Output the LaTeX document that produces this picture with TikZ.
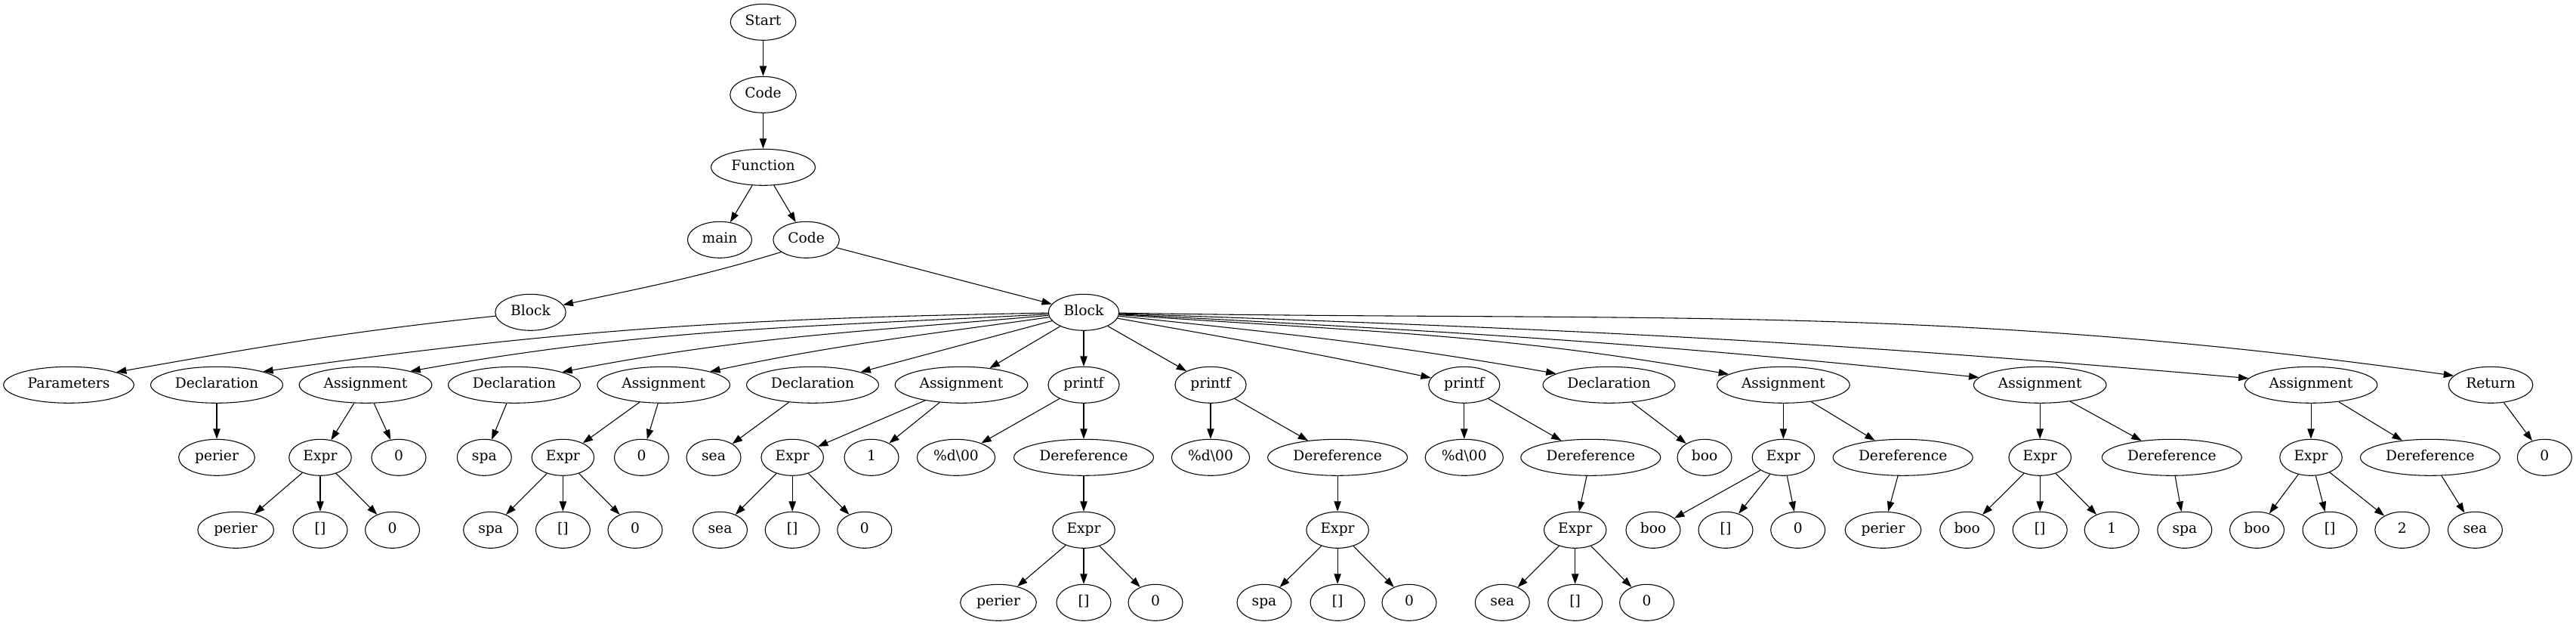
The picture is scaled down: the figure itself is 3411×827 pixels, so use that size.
\documentclass[tikz,border=0pt]{standalone}
\usepackage{fontspec}
\setmainfont{DejaVu Serif}
\usetikzlibrary{arrows.meta,shapes.geometric}

\begin{document}
\begin{tikzpicture}[x=0.75pt, y=-0.75pt, >={Triangle[length=10pt,width=7pt]},
  tnode/.style={draw, ellipse, thick, minimum width=54pt, minimum height=36pt,
    inner xsep=5pt, inner ysep=2pt, text height=10pt, text depth=3pt,
    font=\fontsize{14}{17}\selectfont}]
\useasboundingbox (0,0) rectangle (3411,827);
\node[tnode] (1) at (1010.5,29.3) {Start};
\node[tnode] (2) at (1010.5,125.3) {Code};
\node[tnode] (3) at (1010.5,221.3) {Function};
\node[tnode] (4) at (953,317.3) {main};
\node[tnode] (5) at (1067.6,317.3) {Code};
\node[tnode] (6) at (702.5,413.3) {Block};
\node[tnode] (7) at (1435,413.3) {Block};
\node[tnode] (8) at (91,509.3) {Parameters};
\node[tnode] (9) at (287,509.3) {Declaration};
\node[tnode] (10) at (484,509.3) {Assignment};
\node[tnode] (11) at (681,509.3) {Declaration};
\node[tnode] (12) at (878.7,509.3) {Assignment};
\node[tnode] (13) at (1076,509.3) {Declaration};
\node[tnode] (14) at (1273,509.3) {Assignment};
\node[tnode] (15) at (1435,509.3) {printf};
\node[tnode] (16) at (1603,509.3) {printf};
\node[tnode] (17) at (1938.8,509.3) {printf};
\node[tnode] (18) at (2130.5,509.3) {Declaration};
\node[tnode] (19) at (2361.4,509.3) {Assignment};
\node[tnode] (20) at (2701.2,509.3) {Assignment};
\node[tnode] (21) at (3060,509.3) {Assignment};
\node[tnode] (22) at (3298,509.3) {Return};
\node[tnode] (23) at (287,605.3) {perier};
\node[tnode] (24) at (424,605.3) {Expr};
\node[tnode] (25) at (528,605.3) {0};
\node[tnode] (26) at (641.3,605.3) {spa};
\node[tnode] (27) at (745.4,605.3) {Expr};
\node[tnode] (28) at (849.5,605.3) {0};
\node[tnode] (29) at (945,605.3) {sea};
\node[tnode] (30) at (1049.2,605.3) {Expr};
\node[tnode] (31) at (1154,605.3) {1};
\node[tnode] (32) at (1266,605.3) {\%d\textbackslash 00};
\node[tnode] (33) at (1435,605.3) {Dereference};
\node[tnode] (34) at (1603,605.3) {\%d\textbackslash 00};
\node[tnode] (35) at (1771.1,605.3) {Dereference};
\node[tnode] (36) at (1938.8,605.3) {\%d\textbackslash 00};
\node[tnode] (37) at (2106.3,605.3) {Dereference};
\node[tnode] (38) at (2257,605.3) {boo};
\node[tnode] (39) at (2361.4,605.3) {Expr};
\node[tnode] (40) at (2519.7,605.3) {Dereference};
\node[tnode] (41) at (2701.2,605.3) {Expr};
\node[tnode] (42) at (2875.8,605.3) {Dereference};
\node[tnode] (43) at (3060,605.3) {Expr};
\node[tnode] (44) at (3217.9,605.3) {Dereference};
\node[tnode] (45) at (3369.3,605.3) {0};
\node[tnode] (46) at (312.2,701.3) {perier};
\node[tnode] (47) at (424,701.3) {[]};
\node[tnode] (48) at (519.6,701.3) {0};
\node[tnode] (49) at (649.7,701.3) {spa};
\node[tnode] (50) at (745.4,701.3) {[]};
\node[tnode] (51) at (841,701.3) {0};
\node[tnode] (52) at (953.5,701.3) {sea};
\node[tnode] (53) at (1049.2,701.3) {[]};
\node[tnode] (54) at (1144.8,701.3) {0};
\node[tnode] (55) at (1435,701.3) {Expr};
\node[tnode] (56) at (1771.1,701.3) {Expr};
\node[tnode] (57) at (2085.7,701.3) {Expr};
\node[tnode] (58) at (2189,701.3) {boo};
\node[tnode] (59) at (2285,701.3) {[]};
\node[tnode] (60) at (2380.7,701.3) {0};
\node[tnode] (61) at (2493.5,701.3) {perier};
\node[tnode] (62) at (2604.7,701.3) {boo};
\node[tnode] (63) at (2701.2,701.3) {[]};
\node[tnode] (64) at (2796.2,701.3) {1};
\node[tnode] (65) at (2892.8,701.3) {spa};
\node[tnode] (66) at (2988.5,701.3) {boo};
\node[tnode] (67) at (3085,701.3) {[]};
\node[tnode] (68) at (3180.8,701.3) {2};
\node[tnode] (69) at (3277.4,701.3) {sea};
\node[tnode] (70) at (1322,797.3) {perier};
\node[tnode] (71) at (1435,797.3) {[]};
\node[tnode] (72) at (1530,797.3) {0};
\node[tnode] (73) at (1674,797.3) {spa};
\node[tnode] (74) at (1771.1,797.3) {[]};
\node[tnode] (75) at (1866,797.3) {0};
\node[tnode] (76) at (1989.3,797.3) {sea};
\node[tnode] (77) at (2085.7,797.3) {[]};
\node[tnode] (78) at (2180.6,797.3) {0};
\path[draw,thick,->] (1) -- (2);
\path[draw,thick,->] (2) -- (3);
\path[draw,thick,->] (3) -- (4);
\path[draw,thick,->] (3) -- (5);
\path[draw,thick,->] (5.206) .. controls +(197:84pt) and +(12:84pt) .. (6.13);
\path[draw,thick,->] (5) -- (7);
\path[draw,thick,->] (6.186) .. controls +(186:146pt) and +(10:146pt) .. (8.15);
\path[draw,thick,->] (7.181) .. controls +(181:304pt) and +(8:304pt) .. (9.16);
\path[draw,thick,->] (7.183) .. controls +(183:246pt) and +(10:246pt) .. (10.17);
\path[draw,thick,->] (7.185) .. controls +(185:186pt) and +(11:186pt) .. (11.15);
\path[draw,thick,->] (7.188) .. controls +(188:129pt) and +(12:129pt) .. (12.16);
\path[draw,thick,->] (7) -- (13);
\path[draw,thick,->] (7) -- (14);
\path[draw,thick,->] (7) -- (15);
\path[draw,thick,->] (7) -- (16);
\path[draw,thick,->] (7.-10) .. controls +(-10:120pt) and +(168:120pt) .. (17.168);
\path[draw,thick,->] (7.-6) .. controls +(-6:167pt) and +(170:167pt) .. (18.168);
\path[draw,thick,->] (7.-4) .. controls +(-4:238pt) and +(170:238pt) .. (19.169);
\path[draw,thick,->] (7.-3) .. controls +(-3:334pt) and +(174:334pt) .. (20.173);
\path[draw,thick,->] (7.-2) .. controls +(-2:439pt) and +(175:439pt) .. (21.174);
\path[draw,thick,->] (7.-1) .. controls +(-1:517pt) and +(172:517pt) .. (22.166);
\path[draw,thick,->] (9) -- (23);
\path[draw,thick,->] (10) -- (24);
\path[draw,thick,->] (10) -- (25);
\path[draw,thick,->] (11) -- (26);
\path[draw,thick,->] (12) -- (27);
\path[draw,thick,->] (12) -- (28);
\path[draw,thick,->] (13) -- (29);
\path[draw,thick,->] (14) -- (30);
\path[draw,thick,->] (14) -- (31);
\path[draw,thick,->] (15) -- (32);
\path[draw,thick,->] (15) -- (33);
\path[draw,thick,->] (16) -- (34);
\path[draw,thick,->] (16) -- (35);
\path[draw,thick,->] (17) -- (36);
\path[draw,thick,->] (17) -- (37);
\path[draw,thick,->] (18) -- (38);
\path[draw,thick,->] (19) -- (39);
\path[draw,thick,->] (19) -- (40);
\path[draw,thick,->] (20) -- (41);
\path[draw,thick,->] (20) -- (42);
\path[draw,thick,->] (21) -- (43);
\path[draw,thick,->] (21) -- (44);
\path[draw,thick,->] (22) -- (45);
\path[draw,thick,->] (24) -- (46);
\path[draw,thick,->] (24) -- (47);
\path[draw,thick,->] (24) -- (48);
\path[draw,thick,->] (27) -- (49);
\path[draw,thick,->] (27) -- (50);
\path[draw,thick,->] (27) -- (51);
\path[draw,thick,->] (30) -- (52);
\path[draw,thick,->] (30) -- (53);
\path[draw,thick,->] (30) -- (54);
\path[draw,thick,->] (33) -- (55);
\path[draw,thick,->] (35) -- (56);
\path[draw,thick,->] (37) -- (57);
\path[draw,thick,->] (39) -- (58);
\path[draw,thick,->] (39) -- (59);
\path[draw,thick,->] (39) -- (60);
\path[draw,thick,->] (40) -- (61);
\path[draw,thick,->] (41) -- (62);
\path[draw,thick,->] (41) -- (63);
\path[draw,thick,->] (41) -- (64);
\path[draw,thick,->] (42) -- (65);
\path[draw,thick,->] (43) -- (66);
\path[draw,thick,->] (43) -- (67);
\path[draw,thick,->] (43) -- (68);
\path[draw,thick,->] (44) -- (69);
\path[draw,thick,->] (55) -- (70);
\path[draw,thick,->] (55) -- (71);
\path[draw,thick,->] (55) -- (72);
\path[draw,thick,->] (56) -- (73);
\path[draw,thick,->] (56) -- (74);
\path[draw,thick,->] (56) -- (75);
\path[draw,thick,->] (57) -- (76);
\path[draw,thick,->] (57) -- (77);
\path[draw,thick,->] (57) -- (78);
\end{tikzpicture}
\end{document}
